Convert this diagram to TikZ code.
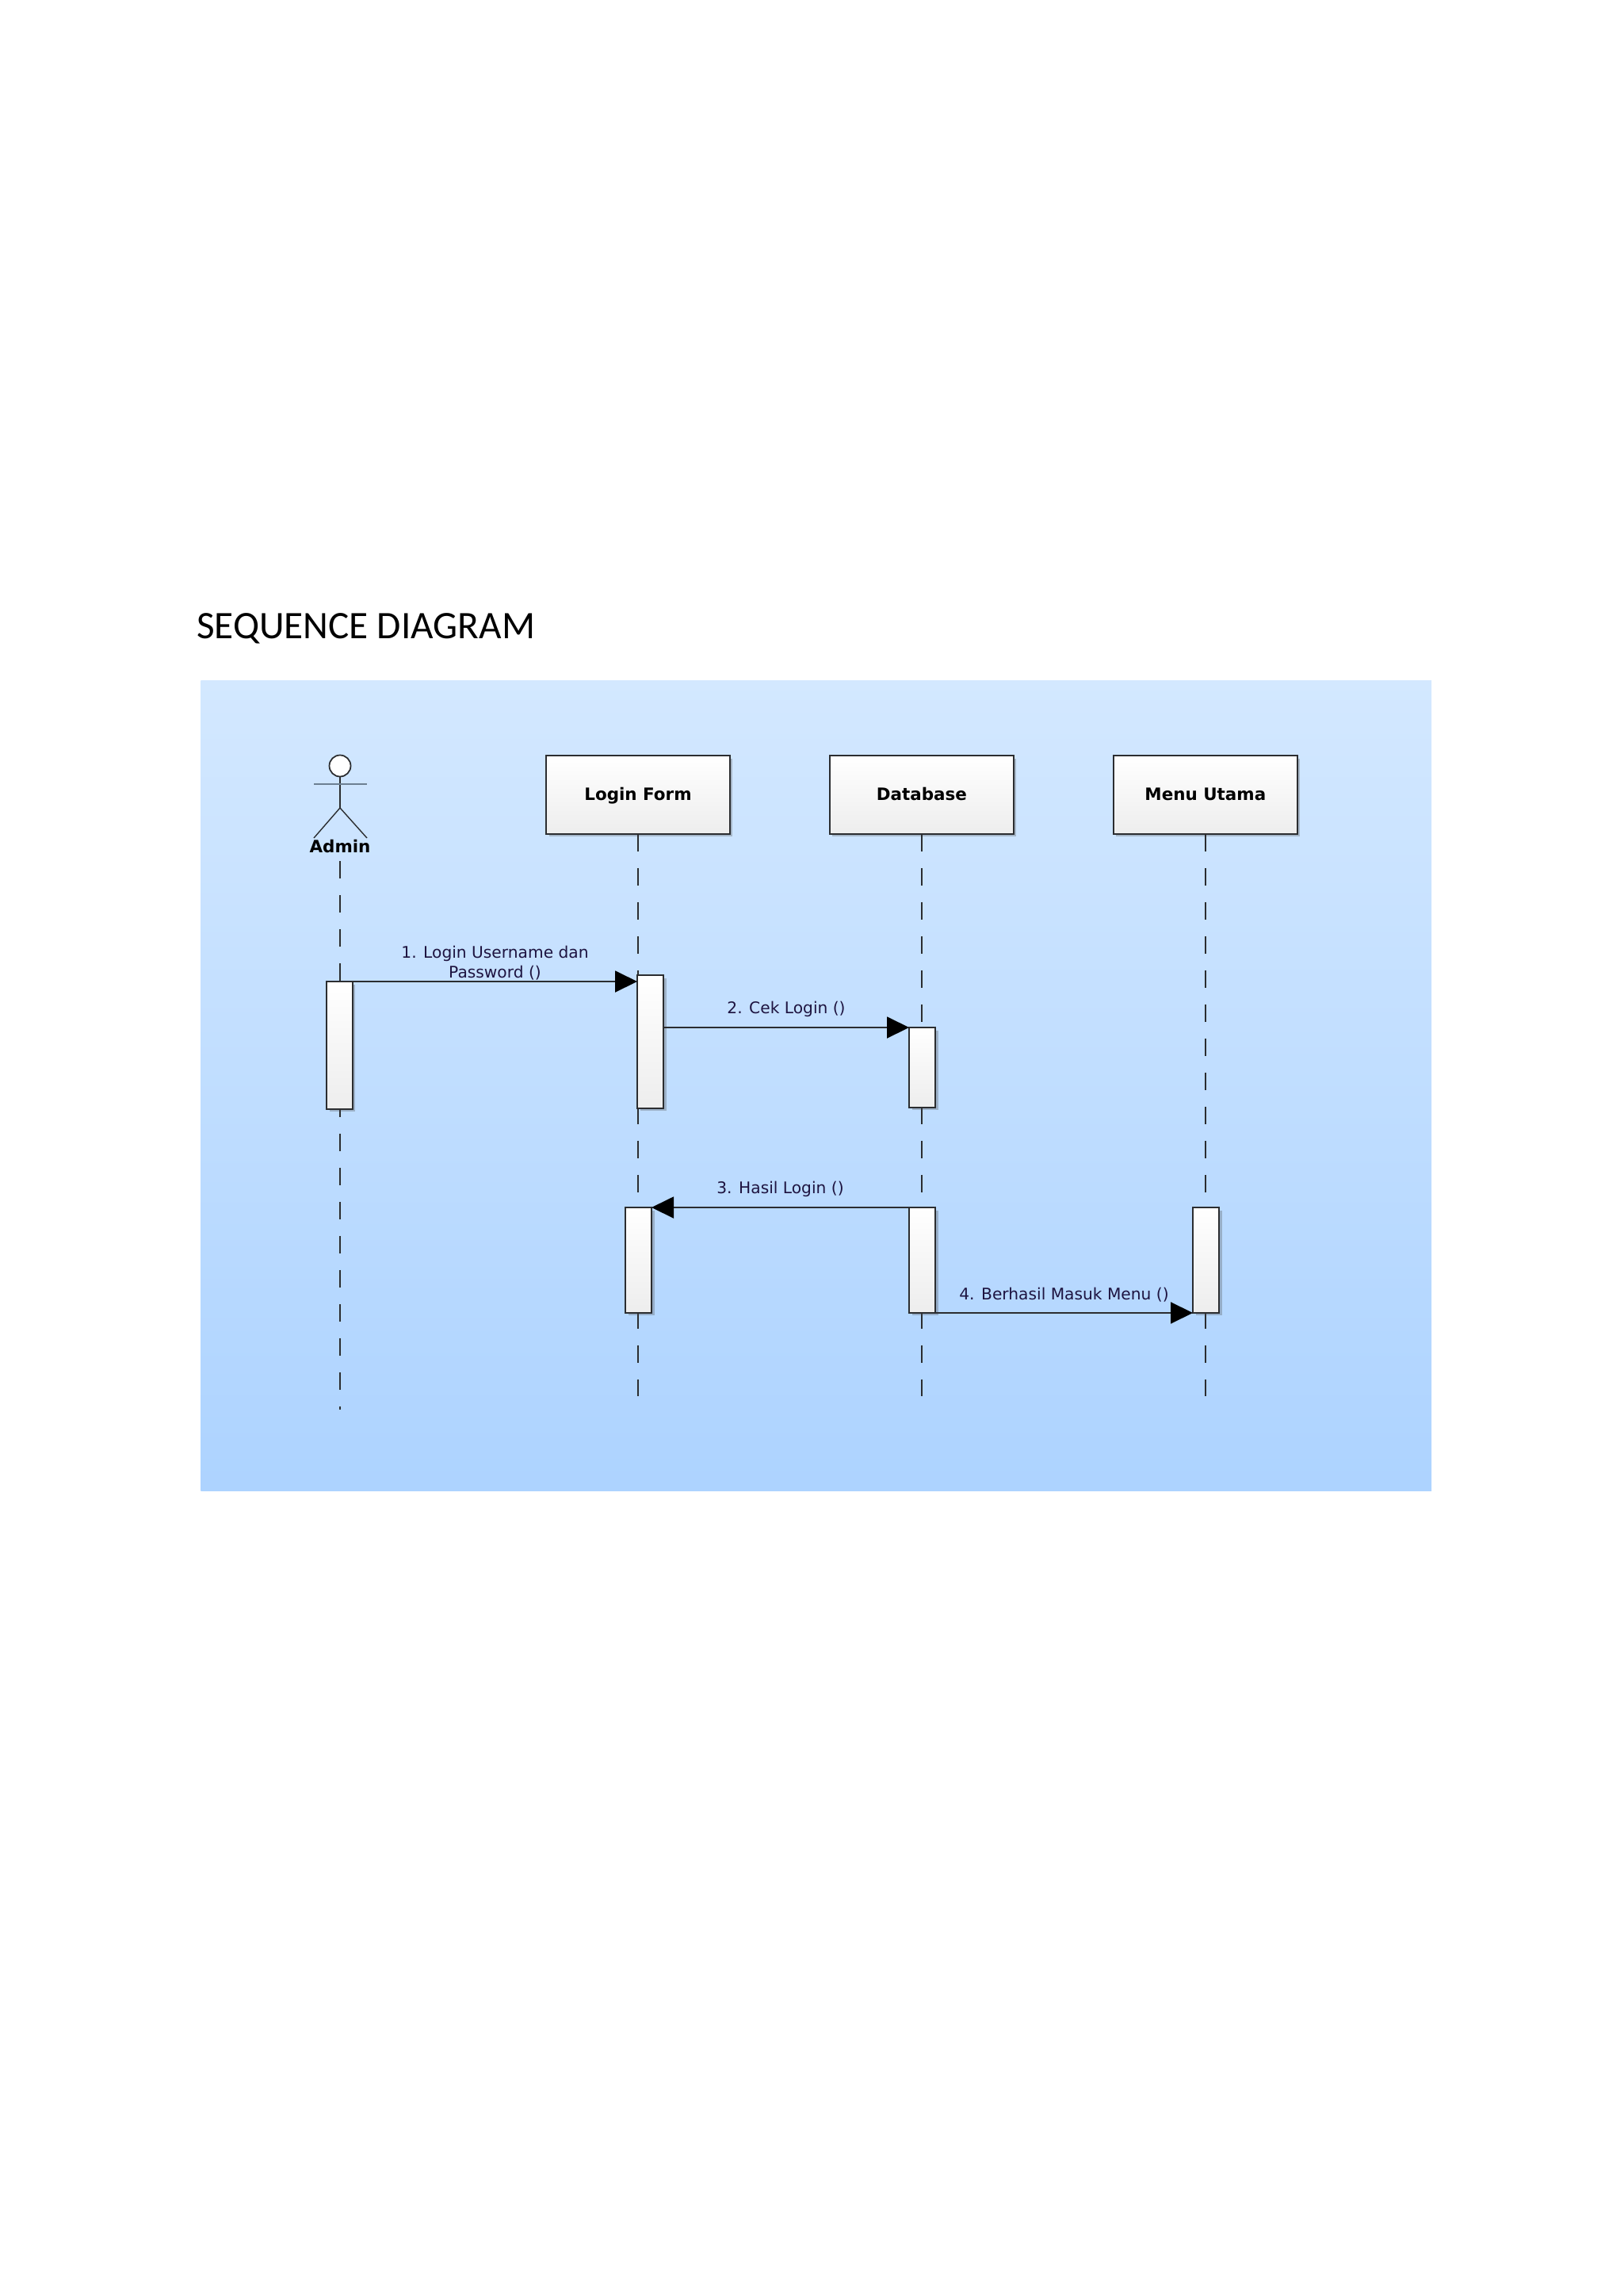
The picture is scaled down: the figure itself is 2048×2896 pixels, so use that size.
\documentclass[tikz,border=0pt]{standalone}
\usepackage{fontspec}
\setmainfont{DejaVu Sans}
\newfontfamily\titlefont{Carlito}
\usetikzlibrary{arrows.meta,positioning,shadows}
\definecolor{bgtop}{HTML}{D3E8FF}
\definecolor{bgbottom}{HTML}{ADD3FF}
\definecolor{umlline}{HTML}{2B2D30}
\definecolor{msgtext}{HTML}{1E1440}
\definecolor{armline}{HTML}{6C7F92}

\begin{document}
\begin{tikzpicture}[
  x=0.02cm, y=-0.02cm,
  >={Triangle[length=0.56cm,width=0.54cm,color=black]},
  shade box/.style={draw=umlline, line width=1.3pt, top color=white, bottom color=black!7, inner sep=0pt, outer sep=0pt,
    drop shadow={shadow xshift=0.07cm, shadow yshift=-0.07cm, opacity=0.3, fill=black!70}},
  objbox/.style={shade box, minimum width=4.64cm, minimum height=1.98cm, text=black, text height=0.76em, text depth=0pt, font=\fontsize{12.2}{15}\selectfont\bfseries},
  bar/.style={shade box, minimum width=0.66cm},
  lifeline/.style={umlline, line width=1.1pt, dash pattern=on 0.44cm off 0.42cm},
  msg/.style={->, umlline, line width=1.1pt},
  msglabel/.style={text=msgtext, align=center, inner sep=0pt, font=\fontsize{11.5}{14.2}\selectfont}
]
\useasboundingbox[fill=white] (0,0) rectangle (2048,2896);

\node[anchor=base west, inner sep=0pt, font=\titlefont\fontsize{28}{34}\selectfont] (title) at (248,805) {SEQUENCE DIAGRAM};
\node[anchor=north west, minimum width=31.06cm, minimum height=20.44cm, inner sep=0pt, top color=bgtop, bottom color=bgbottom] (panel) at (253,858) {};

% actor
\node[circle, draw=umlline, line width=1pt, fill=white, minimum size=0.54cm, inner sep=0pt] (head) at (429,966) {};
\coordinate (hip) at (429,1019);
\coordinate (armleft) at (396,989);
\coordinate (armright) at (463,989);
\coordinate (footleft) at (396,1057);
\coordinate (footright) at (463,1057);
\draw[umlline, line width=1pt] (head) -- (hip);
\draw[umlline, line width=0.8pt] (footleft) -- (hip) -- (footright);
\draw[armline, line width=1.6pt] (armleft) -- (armright);
\node[font=\fontsize{12.2}{15}\selectfont\bfseries, inner sep=0pt] (admin) at (429,1067) {Admin};

% objects
\node[objbox, anchor=north west] (login) at (689,953) {Login Form};
\node[objbox, right=2.52cm of login] (database) {Database};
\node[objbox, right=2.52cm of database] (menu) {Menu Utama};

% lifelines
\coordinate (adminend) at (429,1778);
\coordinate (loginend) at (login.south |- 0,1761);
\coordinate (databaseend) at (database.south |- 0,1761);
\coordinate (menuend) at (menu.south |- 0,1761);
\coordinate (adminstart) at (429,1086);
\draw[lifeline] (adminstart) -- (adminend);
\draw[lifeline] (login.south) -- (loginend);
\draw[lifeline] (database.south) -- (databaseend);
\draw[lifeline] (menu.south) -- (menuend);

% activations
\node[bar, anchor=north west, minimum height=3.22cm] (adminbar) at (412,1238) {};
\node[bar, anchor=north west, minimum height=3.36cm] (loginbara) at (804,1230) {};
\node[bar, anchor=north west, minimum height=2.02cm] (databasebara) at (1147,1296) {};
\node[bar, anchor=north west, minimum height=2.66cm] (loginbarb) at (789,1523) {};
\node[bar, anchor=north west, minimum height=2.66cm] (databasebarb) at (1147,1523) {};
\node[bar, anchor=north west, minimum height=2.66cm] (menubar) at (1505,1523) {};

% messages
\draw[msg] (adminbar.north east) -- node[midway, above=0.02cm, msglabel] {1. Login Username dan\\Password ()} (loginbara.west |- adminbar.north);
\draw[msg] (loginbara.east |- databasebara.north) -- node[midway, above=0.25cm, msglabel] {2. Cek Login ()} (databasebara.north west);
\draw[msg] (databasebarb.north west) -- node[midway, above=0.25cm, msglabel] {3. Hasil Login ()} (loginbarb.north east);
\draw[msg] (databasebarb.south east) -- node[midway, above=0.26cm, msglabel] {4. Berhasil Masuk Menu ()} (menubar.south west);

\end{tikzpicture}
\end{document}
